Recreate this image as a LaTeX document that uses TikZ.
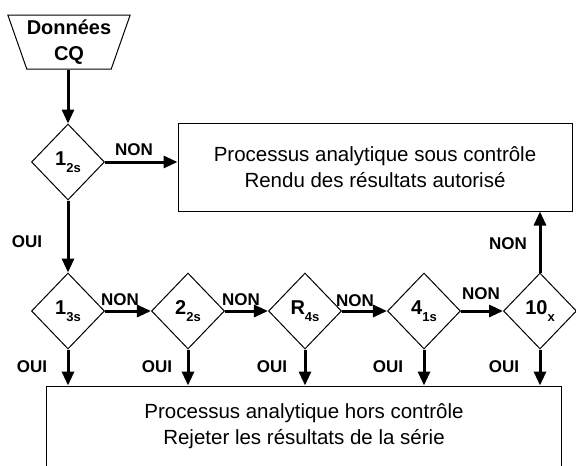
\documentclass[tikz,border=0pt]{standalone}
\usepackage{fontspec}
\setmainfont{Liberation Sans}
\usetikzlibrary{shapes.geometric, arrows.meta, positioning, calc}

% subscript of the rule names
\newcommand{\ruleidx}[1]{\raisebox{-7pt}{\fontsize{13}{13}\selectfont #1}}

\begin{document}
\begin{tikzpicture}[x=1pt, y=-1pt,
    rulebox/.style={diamond, draw, line width=1pt, inner sep=0pt,
        minimum width=73pt, minimum height=76pt,
        font=\fontsize{20}{22}\selectfont\bfseries},
    resultbox/.style={rectangle, draw, line width=1pt, align=center,
        font=\fontsize{20.5}{26}\selectfont},
    flow/.style={line width=3pt, -{Triangle[length=14pt, width=12pt]}},
    lbl/.style={font=\fontsize{17}{17}\selectfont\bfseries, inner sep=0pt}]
    \useasboundingbox (0,0) rectangle (576,466);
    \clip (0,0) rectangle (576,466);

    % Input data
    \node[trapezium, draw, line width=1pt, shape border rotate=180,
        trapezium stretches=true, trapezium angle=67,
        minimum width=118pt, minimum height=54pt, inner sep=0pt,
        align=center, font=\fontsize{20}{26}\selectfont\bfseries]
        (donnees) at (69,42) {Données\\CQ};

    % Westgard rules
    \node[rulebox] (r12s) at (68,162) {1\ruleidx{2s}};
    \node[rulebox] (r13s) at (68,311) {1\ruleidx{3s}};
    \node[rulebox] (r22s) at (188,311) {2\ruleidx{2s}};
    \node[rulebox] (rR4s) at (305,311) {R\ruleidx{4s}};
    \node[rulebox] (r41s) at (424,311) {4\ruleidx{1s}};
    \node[rulebox] (r10x) at (540,311) {10\ruleidx{x}};

    % Outcomes
    \node[resultbox, minimum width=394pt, minimum height=88pt] (sous) at (375,167)
        {Processus analytique sous contrôle\\Rendu des résultats autorisé};
    \node[resultbox, minimum width=515pt, minimum height=81pt] (hors) at (304,426.5)
        {Processus analytique hors contrôle\\Rejeter les résultats de la série};

    % Arrows
    \draw[flow] (donnees.south -| r12s) -- (r12s);
    \draw[flow] (r12s.east) -- (r12s.east -| sous.west);
    \draw[flow] (r12s) -- (r13s);
    \draw[flow] (r13s) -- (r22s);
    \draw[flow] (r22s) -- (rR4s);
    \draw[flow] (rR4s) -- (r41s);
    \draw[flow] (r41s) -- (r10x);
    \draw[flow] (r10x) -- (r10x |- sous.south);
    \foreach \r in {r13s, r22s, rR4s, r41s, r10x}
        \draw[flow] (\r) -- (\r |- hors.north);

    % Labels
    \node[lbl] (non0) at (134,150) {NON};
    \node[lbl] (oui0) at (27,242) {OUI};
    \node[lbl] (non1) at (120,300) {NON};
    \node[lbl] (non2) at (241,300) {NON};
    \node[lbl] (non3) at (355,301) {NON};
    \node[lbl] (non4) at (481,294) {NON};
    \node[lbl] (non5) at (508,244) {NON};
    \node[lbl] (oui1) at (32,367) {OUI};
    \node[lbl] (oui2) at (157,367) {OUI};
    \node[lbl] (oui3) at (272,367) {OUI};
    \node[lbl] (oui4) at (388,367) {OUI};
    \node[lbl] (oui5) at (504,367) {OUI};
\end{tikzpicture}
\end{document}
